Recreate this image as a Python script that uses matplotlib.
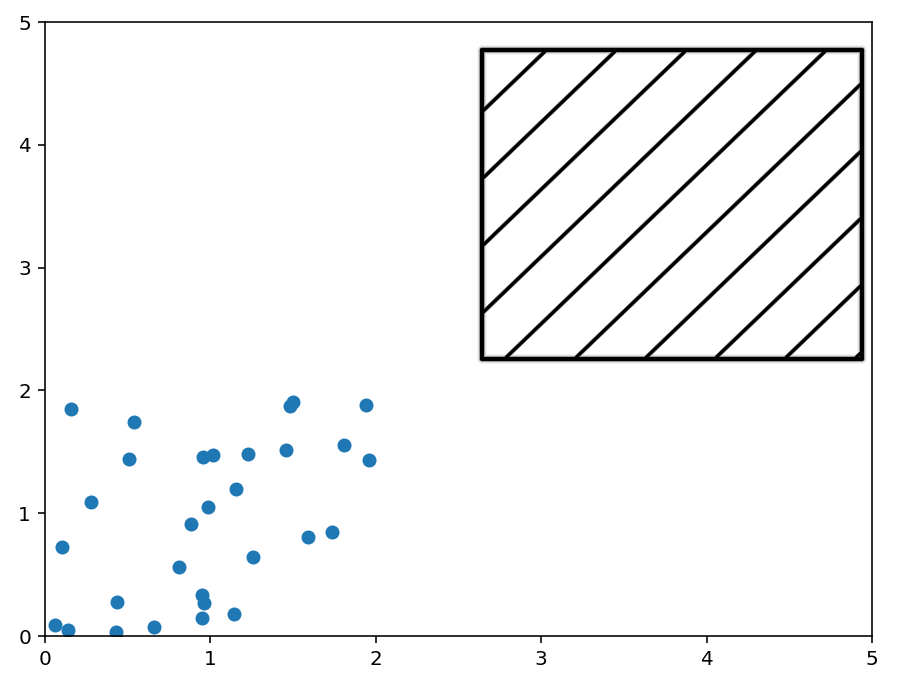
import matplotlib
matplotlib.use("Agg")
import matplotlib.pyplot as plt
import numpy as np

# scatter points
x = [0.155, 0.54, 0.508, 0.953, 1.014, 0.276, 0.983, 0.883, 0.105, 0.81,
     0.951, 0.961, 0.437, 0.951, 0.062, 0.137, 0.427, 0.659,
     1.481, 1.501, 1.939, 1.808, 1.959, 1.455, 1.225, 1.153, 1.588, 1.737,
     1.256, 1.145]
y = [1.85, 1.74, 1.444, 1.455, 1.471, 1.09, 1.05, 0.915, 0.727, 0.562,
     0.334, 0.266, 0.277, 0.144, 0.087, 0.049, 0.030, 0.076,
     1.875, 1.903, 1.879, 1.553, 1.431, 1.512, 1.485, 1.197, 0.806, 0.844,
     0.643, 0.182]

# extent of the hatched picture (data coords)
img_extent = [2.594, 4.988, 2.191, 4.837]

# raster of a hatched box, looks like a scanned picture
H, W = 325, 396
rows, cols = np.mgrid[0:H, 0:W] + 0.5
fl, fr, ft, fb = 8, 388, 8, 317          # frame inside the raster
a, b, phase = 1 / 70.0, 1 / 67.2, 0.92   # hatch spacing

v = (cols - fl) * a + (rows - ft) * b - phase
d_line = np.abs(v - np.round(v)) / np.hypot(a, b)
inside = (cols > fl) & (cols < fr) & (rows > ft) & (rows < fb)
line_dark = np.clip((2.6 - d_line) / 1.4, 0, 1) * inside

# distance to the frame outline
ox = np.maximum.reduce([fl - cols, np.zeros_like(cols), cols - fr])
oy = np.maximum.reduce([ft - rows, np.zeros_like(rows), rows - fb])
d_out = np.hypot(ox, oy)
d_in = np.minimum.reduce([cols - fl, fr - cols, rows - ft, fb - rows])
d_frame = np.where(inside, d_in, d_out)
frame_dark = np.clip((3.0 - d_frame) / 1.3, 0, 1)
halo = np.clip((5.0 - d_frame) / 3.0, 0, 1) * 0.25

img = 1 - np.maximum.reduce([line_dark, frame_dark, halo])

fig = plt.figure(figsize=(924 / 144, 692 / 144), dpi=144)
ax = fig.add_axes([45 / 924, 56 / 692, 827 / 924, 614 / 692])
ax.scatter(x, y)
ax.imshow(img, cmap="gray", vmin=0, vmax=1, extent=img_extent,
          interpolation="bilinear", aspect="auto")
ax.set_xlim(0, 5)
ax.set_ylim(0, 5)
fig.savefig("out.png", dpi=144)
